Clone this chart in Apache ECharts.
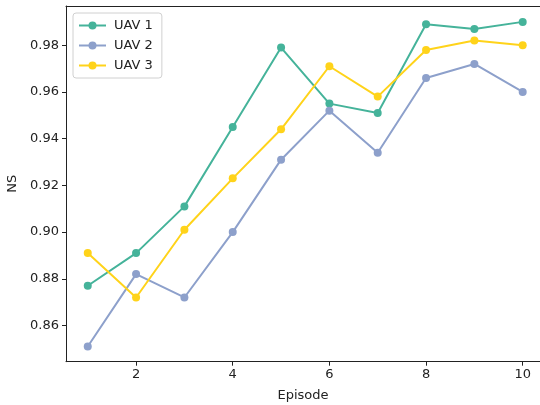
<!DOCTYPE html>
<html><head><meta charset="utf-8">
<script src="https://cdn.jsdelivr.net/npm/echarts@6/dist/echarts.min.js"></script>
<style>html,body{margin:0;padding:0;background:#fff}#c{width:540px;height:405px}</style>
</head><body><div id="c"></div>
<script>
const episodes = [1,2,3,4,5,6,7,8,9,10];
const uav1 = [0.877,0.891,0.911,0.945,0.979,0.955,0.951,0.989,0.987,0.990];
const uav2 = [0.851,0.882,0.872,0.900,0.931,0.952,0.934,0.966,0.972,0.960];
const uav3 = [0.891,0.872,0.901,0.923,0.944,0.971,0.958,0.978,0.982,0.980];
const xTicks = [2,4,6,8,10];
const yTicks = [0.86,0.88,0.90,0.92,0.94,0.96,0.98];
const names = ['UAV 1','UAV 2','UAV 3'];
const colors = ['#45b39a','#8da0cb','#ffd31a'];
const font = 'DejaVu Sans';
function mk(name, vals, color){
  return {name, type:'line', data: episodes.map((e,i)=>[e, vals[i]]),
    symbol:'circle', symbolSize:8, showSymbol:true,
    lineStyle:{width:2, color}, itemStyle:{color}, emphasis:{disabled:true}, animation:false};
}
const chart = echarts.init(document.getElementById('c'), null, {renderer:'canvas'});
chart.setOption({
  animation:false,
  grid:{left:66, top:6, right:0, bottom:43.3, show:false, containLabel:false, outerBoundsMode:'none'},
  legend:{orient:'vertical', left:73, top:13, data:names, itemWidth:27, itemHeight:10, itemGap:7,
    padding:[6,9,6,5], borderColor:'#d0d0d0', borderWidth:1, borderRadius:3, backgroundColor:'#fff',
    textStyle:{fontFamily:font, fontSize:13, color:'#222', padding:[0,0,0,3]}, selectedMode:false},
  xAxis:[{type:'value', min:0.55, max:10.358, name:'Episode', nameLocation:'middle', nameGap:27,
    nameTextStyle:{fontFamily:font, fontSize:13, color:'#222'},
    axisLine:{show:true, lineStyle:{color:'#222'}}, splitLine:{show:false},
    axisTick:{show:true, length:4, inside:false, customValues:xTicks, lineStyle:{color:'#222'}},
    axisLabel:{customValues:xTicks, fontFamily:font, fontSize:13, color:'#222', margin:6}},
    {type:'value', position:'top', min:0.55, max:10.358,
    axisLine:{show:true, lineStyle:{color:'#222'}}, splitLine:{show:false},
    axisTick:{show:false}, axisLabel:{show:false}}],
  yAxis:{type:'value', min:0.8445, max:0.9968, name:'NS', nameLocation:'middle', nameGap:44,
    nameTextStyle:{fontFamily:font, fontSize:13, color:'#222'},
    axisLine:{show:true, lineStyle:{color:'#222'}}, splitLine:{show:false},
    axisTick:{show:true, length:4, inside:false, customValues:yTicks, lineStyle:{color:'#222'}},
    axisLabel:{customValues:yTicks, fontFamily:font, fontSize:13, color:'#222', margin:7,
      formatter:v=>v.toFixed(2)}},
  series:[mk(names[0],uav1,colors[0]), mk(names[1],uav2,colors[1]), mk(names[2],uav3,colors[2])]
});
</script></body></html>
